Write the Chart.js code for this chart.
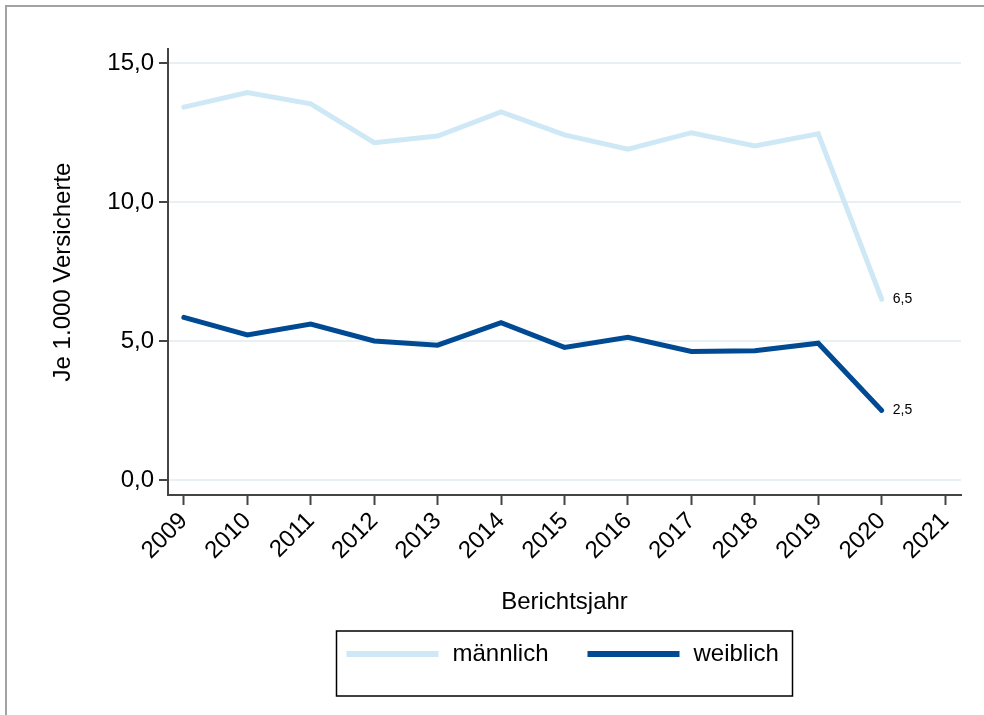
<!DOCTYPE html>
<html>
<head>
    <title>Je 1.000 Versicherte</title>
    <script src="https://cdn.jsdelivr.net/npm/chart.js"></script>
    <style>
        body { margin: 0; overflow: hidden; background: #fff; }
        #wrap { position: relative; width: 984px; height: 715px; overflow: hidden; }
        #frame { position: absolute; left: 5px; top: 5px; width: 1200px; height: 1000px; border: 2px solid #a3a3a3; }
        canvas { position: absolute; left: 0; top: 0; }
    </style>
</head>
<body>
    <div id="wrap">
        <div id="frame"></div>
        <canvas id="rate-chart" width="984" height="715"></canvas>
    </div>

    <script>
        const years = [2009, 2010, 2011, 2012, 2013, 2014, 2015, 2016, 2017, 2018, 2019, 2020];
        const maennlich = [13.41, 13.93, 13.53, 12.13, 12.37, 13.24, 12.41, 11.90, 12.49, 12.01, 12.45, 6.5];
        const weiblich = [5.85, 5.22, 5.61, 5.00, 4.85, 5.66, 4.77, 5.13, 4.62, 4.65, 4.92, 2.5];
        const xTicks = [2009, 2010, 2011, 2012, 2013, 2014, 2015, 2016, 2017, 2018, 2019, 2020, 2021];
        const yTicks = [0, 5, 10, 15];

        const fontFamily = '"Liberation Sans", Arial, Helvetica, sans-serif';
        const axisColor = '#444';
        const fmt = v => v.toFixed(1).replace('.', ',');

        // label at the last point of each line
        const endLabels = {
            id: 'endLabels',
            afterDatasetsDraw(chart) {
                const ctx = chart.ctx;
                ctx.save();
                ctx.font = '14px ' + fontFamily;
                ctx.fillStyle = '#000';
                ctx.textBaseline = 'middle';
                chart.data.datasets.forEach((ds, i) => {
                    const pts = chart.getDatasetMeta(i).data;
                    const last = pts[pts.length - 1];
                    ctx.fillText(fmt(ds.data[ds.data.length - 1].y), last.x + 11, last.y);
                });
                ctx.restore();
            }
        };

        // boxed legend under the axis title
        const boxLegend = {
            id: 'boxLegend',
            afterDraw(chart) {
                const ctx = chart.ctx;
                const area = chart.chartArea;
                const w = 456, h = 65;
                const left = (area.left + area.right) / 2 - w / 2;
                const top = chart.height - 84;
                ctx.save();
                ctx.strokeStyle = '#000';
                ctx.lineWidth = 1.5;
                ctx.strokeRect(left, top, w, h);
                ctx.font = '24px ' + fontFamily;
                ctx.fillStyle = '#000';
                ctx.textBaseline = 'middle';
                const midY = top + 23;
                chart.data.datasets.forEach((ds, i) => {
                    const x0 = left + 10 + i * 241;
                    ctx.strokeStyle = ds.borderColor;
                    ctx.lineWidth = 6;
                    ctx.beginPath();
                    ctx.moveTo(x0, midY);
                    ctx.lineTo(x0 + 92, midY);
                    ctx.stroke();
                    ctx.fillText(ds.label, x0 + 106, midY);
                });
                ctx.restore();
            }
        };

        const ctx = document.getElementById('rate-chart').getContext('2d');
        new Chart(ctx, {
            type: 'line',
            data: {
                datasets: [{
                    label: 'männlich',
                    data: years.map((y, i) => ({ x: y, y: maennlich[i] })),
                    borderColor: '#cfe8f6',
                    borderWidth: 5,
                    borderCapStyle: 'round',
                    pointRadius: 0,
                    tension: 0
                }, {
                    label: 'weiblich',
                    data: years.map((y, i) => ({ x: y, y: weiblich[i] })),
                    borderColor: '#004a94',
                    borderWidth: 5,
                    borderCapStyle: 'round',
                    pointRadius: 0,
                    tension: 0
                }]
            },
            options: {
                responsive: false,
                animation: false,
                layout: { padding: { left: 0, right: 23, top: 49, bottom: 90 } },
                plugins: {
                    legend: { display: false },
                    tooltip: { enabled: false }
                },
                scales: {
                    x: {
                        type: 'linear',
                        min: 2008.75,
                        max: 2021.25,
                        afterBuildTicks: s => { s.ticks = xTicks.map(v => ({ value: v })); },
                        afterFit: s => { s.height = 130; },
                        ticks: {
                            minRotation: 45,
                            maxRotation: 45,
                            autoSkip: false,
                            padding: 2,
                            color: '#000',
                            font: { family: fontFamily, size: 24 },
                            callback: v => String(v)
                        },
                        grid: {
                            drawOnChartArea: false,
                            tickLength: 10,
                            tickColor: axisColor,
                            tickWidth: 2
                        },
                        border: { color: axisColor, width: 2 },
                        title: {
                            display: true,
                            text: 'Berichtsjahr',
                            color: '#000',
                            font: { family: fontFamily, size: 24 },
                            padding: { top: 0, bottom: 8 }
                        }
                    },
                    y: {
                        min: -0.54,
                        max: 15.5,
                        afterBuildTicks: s => { s.ticks = yTicks.map(v => ({ value: v })); },
                        afterFit: s => { s.width = 168; },
                        ticks: {
                            padding: 5,
                            color: '#000',
                            font: { family: fontFamily, size: 24 },
                            callback: v => fmt(v)
                        },
                        grid: {
                            color: '#e8f0f3',
                            lineWidth: 2,
                            tickLength: 9,
                            tickColor: axisColor,
                            tickWidth: 2
                        },
                        border: { color: axisColor, width: 2 },
                        title: {
                            display: true,
                            text: 'Je 1.000 Versicherte',
                            color: '#000',
                            font: { family: fontFamily, size: 24 },
                            padding: { top: 49, bottom: 0 }
                        }
                    }
                }
            },
            plugins: [endLabels, boxLegend]
        });
    </script>
</body>
</html>
